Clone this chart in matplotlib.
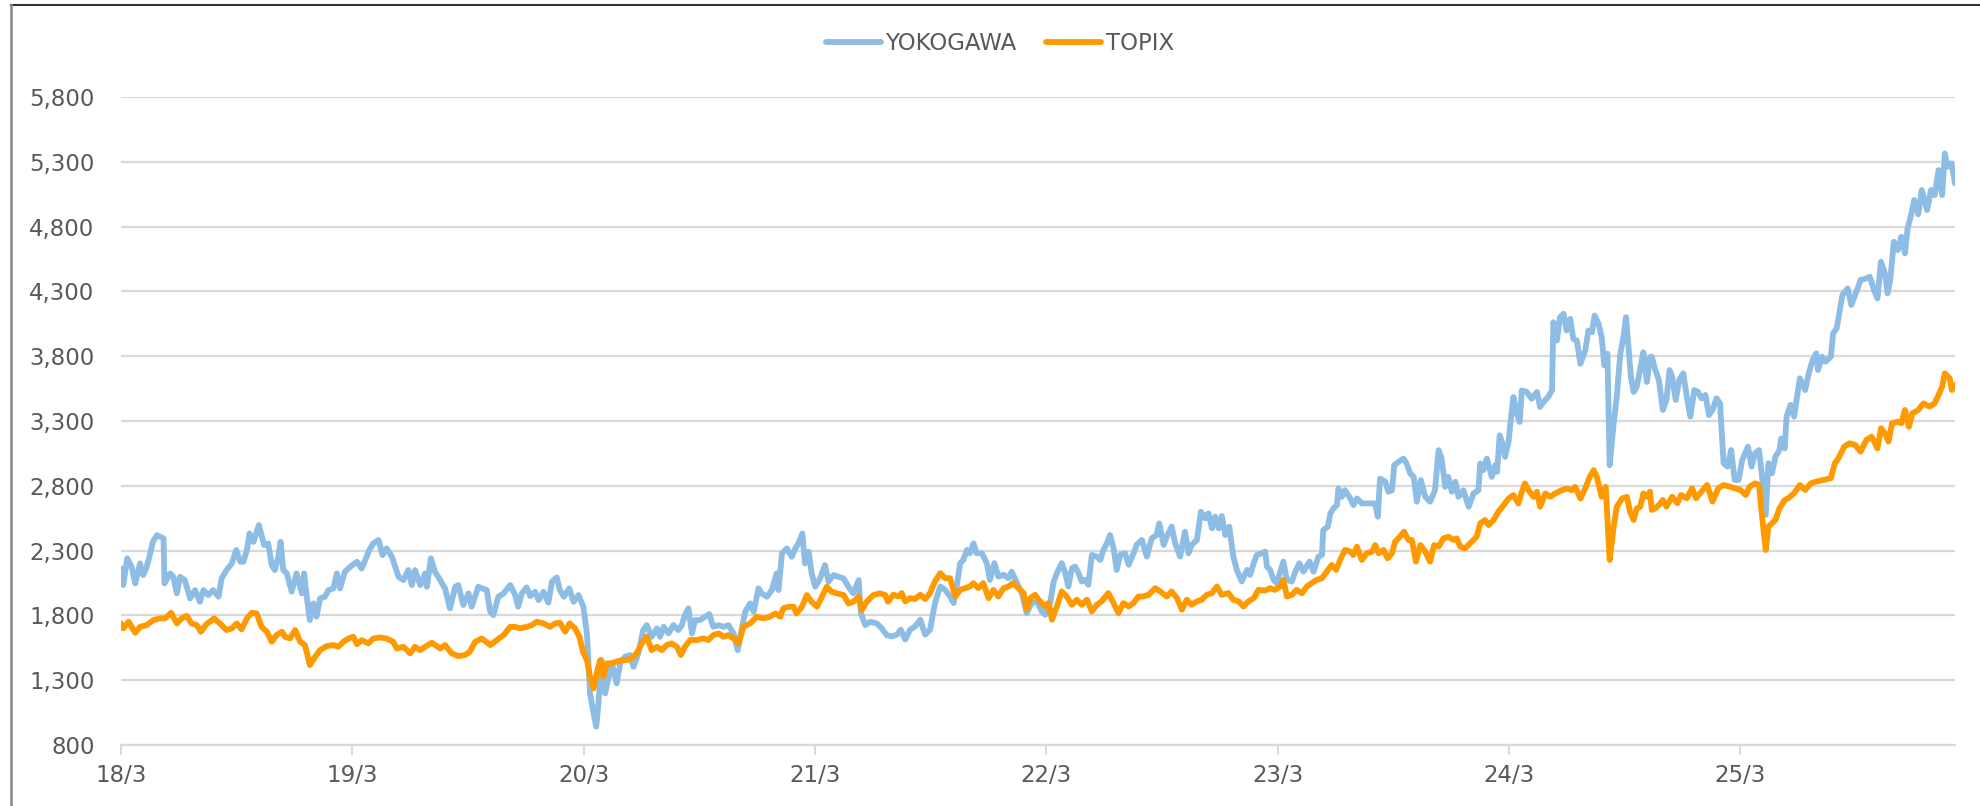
import matplotlib
matplotlib.use("Agg")
import matplotlib.pyplot as plt
from matplotlib.lines import Line2D
from matplotlib.ticker import FuncFormatter

# weeks counted from March 2018
yoko_weeks = [
    0.2, 0.5, 1.4, 2.4, 3.2, 4.3, 5.0, 5.8, 6.5, 7.2, 8.1, 9.6, 9.8, 11.1, 11.8, 12.6, 13.3, 14.4,
    15.6, 16.7, 17.8, 18.6, 19.7, 20.8, 22.0, 22.7, 23.8, 25.0, 26.0, 26.9, 27.6, 28.4, 29.0, 29.9,
    30.6, 31.1, 31.7, 32.3, 33.2, 34.0, 34.7, 35.5, 36.0, 36.6, 37.4, 38.5, 39.6, 40.8, 41.3, 41.9,
    42.6, 43.4, 44.1, 44.9, 46.0, 46.8, 47.9, 48.7, 49.4, 50.5, 51.7, 53.2, 54.3, 55.1, 56.0, 56.9,
    58.1, 59.0, 59.9, 61.1, 62.6, 63.7, 64.8, 65.6, 66.3, 67.5, 68.6, 69.0, 69.9, 70.8, 72.0, 73.1,
    74.2, 75.4, 76.1, 77.2, 78.4, 79.1, 80.6, 82.5, 83.3, 84.0, 85.1, 86.3, 87.8,
    88.9, 89.6, 90.4, 91.5, 92.3, 93.4, 94.2, 95.3, 96.4, 97.2, 98.3, 99.0, 99.9, 101.1, 102.1,
    103.2, 104.3, 105.1, 105.8, 106.6, 107.2, 107.7, 108.4, 109.2, 110.0, 110.7, 111.8, 112.6,
    113.7, 114.8, 115.6, 116.7, 117.8, 118.6, 119.7, 120.9, 121.6, 122.4, 123.5, 124.6, 125.7,
    126.5, 127.2, 128.0, 128.8, 129.5, 130.6, 131.8, 132.7, 133.6, 134.8, 135.9, 137.0, 138.2,
    139.1, 140.0, 140.8, 141.9, 142.7, 143.8, 144.5, 145.7, 146.8, 147.9, 148.3, 149.1, 150.2,
    151.3, 152.1, 152.8, 153.7, 154.3, 155.1, 155.8, 156.6, 157.7, 158.8, 159.6, 160.7, 161.8,
    163.0, 164.1, 165.2, 166.4, 166.9, 167.9, 169.0, 170.5, 171.6, 172.7,
    173.9, 175.0, 175.9, 176.9, 178.0, 179.1, 180.3, 181.4, 182.5, 183.6, 184.8, 185.9, 187.0,
    187.8, 188.5, 189.3, 190.0, 190.8, 191.5, 192.3, 193.0, 194.2, 195.3, 196.0, 197.0, 197.9,
    199.1, 200.2, 200.9, 202.1, 203.2, 204.3, 205.4, 206.6, 207.7, 208.5, 209.6, 210.3, 211.1,
    212.2, 213.0, 213.7, 214.5, 215.2, 216.0, 216.7, 217.5, 218.2, 219.0, 220.1, 220.9, 221.6,
    222.4, 223.1, 223.9, 224.6, 225.4, 226.5, 227.3, 228.4, 229.1, 230.3, 231.4, 232.5, 233.6,
    234.2, 235.2, 235.9, 237.0, 237.8, 238.9, 240.0, 240.8, 241.5, 242.7, 243.6, 244.6, 245.3,
    246.1, 246.8, 247.6, 248.3, 249.1, 250.0, 250.9, 251.7, 252.8, 254.0, 254.7, 255.5, 256.2,
    257.3, 258.1, 258.5, 259.2,
    260.0, 260.7, 261.5, 262.2, 263.0, 264.1, 264.9, 265.8, 266.7, 268.1, 269.0, 270.1, 270.9,
    271.2, 272.2, 272.8, 273.5, 274.3, 274.6, 275.4, 276.1, 277.3, 278.0, 278.8, 279.9, 281.0,
    282.2, 282.9, 283.5, 284.0, 285.2, 285.9, 286.7, 287.2, 288.2, 289.3, 290.0, 290.8, 291.6,
    292.3, 293.2, 294.2, 295.3, 296.4, 297.2, 297.9, 298.7, 299.4, 300.2, 301.0, 301.7, 302.8,
    304.0, 305.1, 306.2, 306.6, 307.3, 308.1, 309.2, 310.0, 310.4, 311.0, 311.5, 312.2, 313.0,
    313.4, 314.1, 314.9, 315.5, 316.0, 317.1, 318.2, 319.4, 320.1, 320.9, 321.9, 322.8, 323.1,
    323.9, 324.6, 325.4, 326.1, 326.9, 327.6, 328.4, 329.2, 330.3, 331.0, 331.8, 332.4, 333.3,
    334.0, 334.6, 335.3, 335.8, 336.7, 337.4, 338.2, 338.9, 339.5, 340.1, 340.6, 341.2, 341.9,
    342.7, 343.4, 344.2, 344.9,
    345.3, 346.1, 346.9, 347.8, 348.6, 349.3, 349.9, 350.7, 351.5, 352.4, 353.2, 354.0, 354.9,
    355.7, 356.5, 357.4, 358.2, 359.0, 359.9, 360.7, 361.5, 362.4, 363.2, 364.0, 364.9, 365.7,
    367.0, 367.8, 368.6, 369.5, 370.1, 371.0, 371.6, 372.4, 373.2, 374.1, 374.5, 375.3, 375.7,
    376.6, 377.4, 378.2, 378.7, 379.9, 380.7, 381.6, 382.4, 382.8, 383.7, 384.5, 385.7, 386.2,
    387.0, 387.4, 388.3, 389.5, 390.3, 391.6, 392.4, 393.7, 394.5, 395.3, 396.2, 397.0, 397.9,
    398.5, 399.1, 399.9, 400.8, 401.6, 402.4, 403.0, 403.7, 404.5, 405.4, 406.2, 407.4, 408.3,
    409.1, 410.0, 410.8, 411.4, 412.0, 412.9, 413.7,
]
yoko = [
    2162, 2034, 2240, 2175, 2047, 2201, 2111, 2175, 2265, 2368, 2419, 2394, 2047, 2124, 2098, 1970, 2098, 2072,
    1931, 1995, 1905, 1995, 1957, 1995, 1944, 2085, 2150, 2201, 2304, 2214, 2214, 2304, 2432, 2368,
    2445, 2497, 2419, 2342, 2355, 2188, 2150, 2253, 2368, 2150, 2124, 1983, 2124, 1970, 2124, 1944,
    1764, 1893, 1790, 1931, 1944, 1995, 2008, 2124, 2008, 2137, 2175, 2214, 2162, 2227, 2304, 2355,
    2381, 2265, 2317, 2253, 2098, 2072, 2150, 2034, 2150, 2034, 2124, 2021, 2240, 2137, 2072, 2008,
    1854, 2021, 2034, 1880, 1970, 1867, 2021, 1995, 1828, 1802, 1944, 1970, 2034,
    1957, 1867, 1970, 2016, 1949, 1982, 1918, 1982, 1898, 2060, 2093, 1995, 1944, 2008, 1905,
    1957, 1867, 1661, 1198, 1044, 941, 1121, 1455, 1198, 1327, 1430, 1275, 1430,
    1481, 1494, 1404, 1507, 1687, 1725, 1635, 1700, 1635, 1712, 1661, 1725, 1687,
    1725, 1802, 1854, 1661, 1764, 1764, 1790, 1810, 1712, 1725, 1712, 1725, 1661,
    1532, 1687, 1828, 1892, 1828, 2008, 1970, 1944, 1995, 2124, 1995, 2278, 2317,
    2252, 2317, 2355, 2432, 2201, 2291, 2124, 2021, 2085, 2188, 2060, 2111, 2098,
    2085, 2021, 1970, 2072, 1815, 1725, 1751, 1738, 1700, 1648,
    1638, 1651, 1690, 1613, 1690, 1715, 1767, 1651, 1690, 1895, 2023, 1997, 1946,
    1895, 2023, 2203, 2228, 2305, 2279, 2356, 2279, 2279, 2203, 2074, 2203, 2100,
    2113, 2087, 2138, 2049, 1972, 1818, 1895, 1908, 1831, 1805, 1895, 2049, 2126,
    2203, 2126, 2023, 2164, 2177, 2126, 2062, 2074, 2036, 2267, 2254, 2228, 2305,
    2356, 2420, 2318, 2151, 2267, 2279, 2190, 2279, 2344, 2382, 2254, 2395, 2420,
    2510, 2344, 2408, 2485, 2356, 2254, 2446, 2279, 2344, 2382, 2600, 2549, 2587,
    2472, 2562, 2472, 2567, 2420, 2485, 2254, 2151, 2062, 2151, 2113, 2202, 2266,
    2279, 2292, 2176, 2151,
    2074, 2048, 2138, 2215, 2074, 2061, 2138, 2202, 2138, 2215, 2138, 2253, 2266,
    2459, 2484, 2587, 2625, 2651, 2779, 2715, 2766, 2702, 2651, 2702, 2664, 2664,
    2664, 2664, 2561, 2856, 2831, 2754, 2766, 2959, 2985, 3010, 2972, 2895, 2869,
    2677, 2844, 2715, 2677, 2766, 3075, 3010, 2792, 2869, 2754, 2831, 2715, 2766,
    2638, 2741, 2766, 2972, 2921, 3010, 2869, 2959, 2908, 3190, 3139, 3023, 3139,
    3280, 3485, 3357, 3293, 3536, 3524, 3472, 3524, 3408, 3447, 3485, 3536, 4062,
    3921, 4101, 4127, 3998, 4088, 3934, 3921, 3742, 3844, 3998, 3985, 4114, 4050,
    3947, 3729, 3819, 2959, 3280, 3485, 3819, 3947, 4101, 3844, 3639, 3524, 3562,
    3703, 3831, 3601, 3793,
    3796, 3693, 3616, 3385, 3462, 3693, 3642, 3462, 3616, 3668, 3488, 3334, 3539,
    3526, 3475, 3501, 3346, 3385, 3475, 3436, 2974, 2948, 3076, 2845, 2845, 2999,
    3102, 2948, 3051, 3076, 2896, 2575, 2974, 2896, 3025, 3076, 3166, 3089, 3334,
    3424, 3334, 3514, 3629, 3539, 3668, 3771, 3822, 3693, 3796, 3758, 3796, 3976,
    4015, 4092, 4272, 4323, 4195, 4310, 4388, 4400, 4413, 4323, 4246, 4529, 4439,
    4285, 4388, 4683, 4619, 4722, 4593, 4786, 4876, 5005, 4894, 5082, 4928, 5082,
    5043, 5236, 5043, 5364, 5262, 5288, 5133,
]

topix_weeks = [
    0.0, 0.5, 1.7, 3.2, 4.3, 5.8, 7.3, 8.8, 9.9, 11.3, 12.6, 13.7, 14.8, 15.9, 17.1, 18.0, 19.3,
    21.0, 22.3, 23.8, 25.0, 26.1, 27.2, 28.4, 29.5, 30.6, 31.7, 32.9, 34.0, 35.1, 36.3, 37.0, 38.1,
    39.3, 40.4, 41.5, 42.6, 43.8, 44.9, 46.4, 47.9, 49.0, 50.2, 51.3, 52.4, 53.2, 54.3, 55.8, 56.9,
    58.4, 59.9, 61.4, 62.2, 63.7, 65.2, 66.3, 67.5, 68.6, 70.1, 72.0, 73.1, 74.6, 76.1, 77.6, 78.7,
    79.9, 81.4, 83.3, 84.8, 86.3, 87.8,
    88.9, 90.0, 91.5, 92.7, 93.8, 95.3, 96.8, 97.9, 99.0, 100.2, 101.2, 102.4, 103.4, 104.2,
    105.1, 105.8, 106.6, 107.3, 108.1, 108.8, 109.6, 110.7, 111.8, 113.0, 114.1, 115.2, 116.3,
    117.5, 118.6, 119.7, 120.9, 122.0, 123.1, 124.2, 125.4, 126.3, 127.2, 128.4, 129.9, 131.4,
    132.5, 133.6, 134.8, 135.9, 137.0, 138.2, 139.3, 140.4, 141.9, 143.4, 144.9, 146.4, 147.6,
    148.7, 149.4, 150.6, 151.7, 152.4, 153.6, 154.7, 155.8, 157.0, 158.1, 159.2, 160.3, 161.5,
    163.0, 164.1, 165.2, 166.4, 167.1, 168.2, 169.7, 171.2, 172.4, 173.0,
    174.2, 175.4, 176.1, 176.9, 178.0, 179.1, 180.3, 181.4, 182.5, 183.6, 184.8, 185.9, 187.0,
    188.2, 189.3, 190.4, 191.5, 192.3, 193.4, 194.5, 195.7, 196.8, 197.9, 199.1, 200.2, 201.2,
    202.4, 203.6, 204.3, 205.1, 206.2, 207.3, 208.5, 209.2, 210.0, 211.1, 212.2, 213.3, 214.5,
    215.6, 216.7, 217.9, 219.0, 220.1, 221.2, 222.7, 223.9, 225.0, 226.1, 227.3, 228.4, 229.5,
    230.6, 231.8, 233.3, 234.4, 235.9, 237.0, 238.2, 239.3, 240.4, 241.5, 242.7, 243.8, 244.9,
    246.1, 247.2, 248.3, 249.8, 250.9, 252.1, 253.2, 254.3, 255.5, 256.6, 258.1, 259.2,
    260.3, 261.5, 262.2, 263.0, 264.1, 265.2, 266.4, 267.5, 268.6, 269.7, 270.9, 272.0, 273.1,
    274.1, 275.0, 276.1, 277.3, 278.0, 278.8, 279.9, 281.0, 282.2, 282.9, 283.7, 284.8, 285.7,
    286.7, 287.4, 288.5, 289.4, 290.4, 291.2, 292.1, 293.1, 294.2, 295.3, 296.2, 297.2, 298.3,
    299.4, 300.6, 301.3, 302.1, 303.2, 304.3, 305.8, 306.6, 307.7, 308.5, 309.6, 310.7, 311.9,
    313.0, 314.1, 315.2, 316.0, 316.7, 317.5, 318.6, 319.4, 320.1, 321.3, 322.4, 323.5, 325.0,
    326.1, 327.3, 328.0, 329.2, 330.3, 331.3, 332.2, 332.9, 334.0, 334.9, 335.8, 336.7, 337.4,
    338.6, 339.7, 340.4, 341.2, 341.9, 342.7, 343.4, 344.2, 344.9,
    345.3, 346.1, 346.9, 347.8, 348.6, 349.9, 351.1, 351.9, 353.2, 354.4, 355.3, 356.5, 357.8,
    359.0, 360.3, 361.5, 362.8, 364.0, 365.3, 366.5, 367.4, 368.6, 369.5, 370.1, 371.0, 371.6,
    372.4, 373.2, 374.1, 375.3, 376.1, 377.4, 378.7, 379.9, 381.2, 382.4, 384.1, 385.7, 386.6,
    387.4, 388.7, 389.9, 391.2, 392.4, 393.7, 394.9, 396.2, 397.0, 397.9, 398.7, 399.5, 400.8,
    401.6, 402.4, 403.3, 404.1, 405.4, 406.6, 407.9, 409.1, 410.0, 410.8, 411.4, 412.5, 413.0,
    413.7,
]
topix = [
    1738, 1700, 1751, 1666, 1712, 1725, 1764, 1777, 1777, 1820, 1738, 1777, 1797, 1738, 1725, 1674, 1733,
    1777, 1738, 1687, 1700, 1738, 1692, 1777, 1820, 1815, 1712, 1674, 1597, 1648, 1674, 1635, 1622,
    1687, 1597, 1571, 1417, 1481, 1532, 1563, 1571, 1558, 1597, 1622, 1635, 1578, 1609, 1584, 1622,
    1630, 1622, 1597, 1545, 1558, 1507, 1558, 1532, 1558, 1589, 1545, 1571, 1507, 1486, 1494, 1520,
    1597, 1622, 1571, 1609, 1648, 1712,
    1712, 1700, 1712, 1725, 1751, 1738, 1712, 1738, 1743, 1674, 1738, 1700, 1635, 1520,
    1455, 1327, 1237, 1353, 1455, 1327, 1430, 1430, 1443, 1455, 1455, 1468, 1507,
    1584, 1635, 1532, 1558, 1532, 1571, 1584, 1558, 1494, 1558, 1610, 1610, 1622,
    1610, 1648, 1661, 1635, 1648, 1622, 1584, 1712, 1738, 1790, 1777, 1790, 1815,
    1790, 1854, 1867, 1867, 1815, 1867, 1957, 1905, 1867, 1944, 2021, 1982, 1970,
    1957, 1892, 1905, 1944, 1841, 1905, 1957, 1970, 1957, 1905,
    1959, 1946, 1972, 1908, 1933, 1926, 1959, 1926, 1972, 2062, 2126, 2087, 2087,
    1946, 1997, 2010, 2023, 2049, 2010, 2049, 1933, 1997, 1946, 2010, 2023, 2049,
    2010, 1972, 1844, 1933, 1959, 1908, 1869, 1895, 1767, 1869, 1985, 1946, 1882,
    1921, 1882, 1921, 1831, 1882, 1908, 1972, 1895, 1818, 1895, 1869, 1895, 1946,
    1946, 1959, 2010, 1985, 1946, 1985, 1933, 1844, 1921, 1882, 1908, 1921, 1959,
    1972, 2023, 1959, 1972, 1921, 1908, 1869, 1908, 1933, 1997, 1992, 2010,
    1997, 2023, 2074, 1946, 1958, 1997, 1971, 2023, 2048, 2074, 2087, 2138, 2189,
    2151, 2228, 2305, 2292, 2266, 2330, 2228, 2279, 2292, 2343, 2279, 2305, 2241,
    2279, 2369, 2407, 2446, 2382, 2382, 2215, 2343, 2292, 2215, 2343, 2330, 2394,
    2407, 2382, 2394, 2330, 2318, 2356, 2407, 2510, 2536, 2497, 2536, 2600, 2651,
    2702, 2728, 2664, 2754, 2818, 2766, 2715, 2754, 2638, 2741, 2715, 2741, 2766,
    2779, 2766, 2792, 2702, 2779, 2869, 2921, 2869, 2715, 2792, 2228, 2484, 2638,
    2702, 2715, 2600, 2536, 2625, 2638, 2741, 2715, 2754,
    2614, 2626, 2652, 2691, 2639, 2716, 2665, 2729, 2704, 2781, 2704, 2755, 2806,
    2678, 2781, 2806, 2794, 2781, 2768, 2729, 2794, 2819, 2806, 2588, 2305, 2485,
    2511, 2537, 2626, 2691, 2704, 2742, 2806, 2768, 2819, 2832, 2845, 2858, 2974,
    3012, 3102, 3128, 3115, 3064, 3154, 3179, 3089, 3244, 3205, 3141, 3282, 3295,
    3282, 3385, 3256, 3359, 3385, 3436, 3411, 3436, 3501, 3565, 3668, 3629, 3539,
    3578,
]

tick_labels = ["18/3", "19/3", "20/3", "21/3", "22/3", "23/3", "24/3", "25/3"]
y_ticks = [800, 1300, 1800, 2300, 2800, 3300, 3800, 4300, 4800, 5300, 5800]

BLUE = "#8DBDE5"
ORANGE = "#FF9900"
GRID = "#D9D9D9"
TEXT = "#595959"
LW = 4.2

plt.rcParams["font.family"] = "DejaVu Sans"

fig = plt.figure(figsize=(19.8, 8.06), dpi=100)
ax = fig.add_axes([121 / 1980, 1 - 745 / 806, (1955 - 121) / 1980, (745 - 97) / 806])

ax.plot(yoko_weeks, yoko, color=BLUE, lw=LW, solid_joinstyle="round", solid_capstyle="round",
        label="YOKOGAWA", zorder=3)
ax.plot(topix_weeks, topix, color=ORANGE, lw=LW, solid_joinstyle="round", solid_capstyle="round",
        label="TOPIX", zorder=4)

ax.set_xlim(0, 413.7)
ax.set_ylim(800, 5800)
ax.set_yticks(y_ticks)
ax.yaxis.set_major_formatter(FuncFormatter(lambda v, p: f"{int(v):,}"))
ax.set_xticks([52.18 * i for i in range(len(tick_labels))])
ax.set_xticklabels(tick_labels)

ax.grid(axis="y", color=GRID, lw=1.6)
ax.set_axisbelow(True)
for s in ["top", "right", "left"]:
    ax.spines[s].set_visible(False)
ax.spines["bottom"].set_color(GRID)
ax.spines["bottom"].set_linewidth(1.6)

ax.tick_params(axis="y", length=0, pad=19, labelsize=16.5, labelcolor=TEXT)
ax.tick_params(axis="x", length=7, width=1.4, color=GRID, pad=7, labelsize=16.5, labelcolor=TEXT)

handles = [Line2D([], [], color=BLUE, lw=LW, solid_capstyle="round"),
           Line2D([], [], color=ORANGE, lw=LW, solid_capstyle="round")]
fig.legend(handles, ["YOKOGAWA", "TOPIX"], loc="center", bbox_to_anchor=(0.505, 1 - 44 / 806),
           ncol=2, frameon=False, fontsize=16.5, handlelength=2.4, handletextpad=0.2,
           columnspacing=1.3, labelcolor=TEXT)

# chart area frame (only top and left edges visible in the crop)
fig.add_artist(Line2D([11 / 1980, 1], [1 - 5 / 806, 1 - 5 / 806], transform=fig.transFigure,
                      color="#333333", lw=1.5))
fig.add_artist(Line2D([11 / 1980, 11 / 1980], [0, 1 - 5 / 806], transform=fig.transFigure,
                      color="#888888", lw=1.8))

fig.savefig("out.png", dpi=100, facecolor="white")
